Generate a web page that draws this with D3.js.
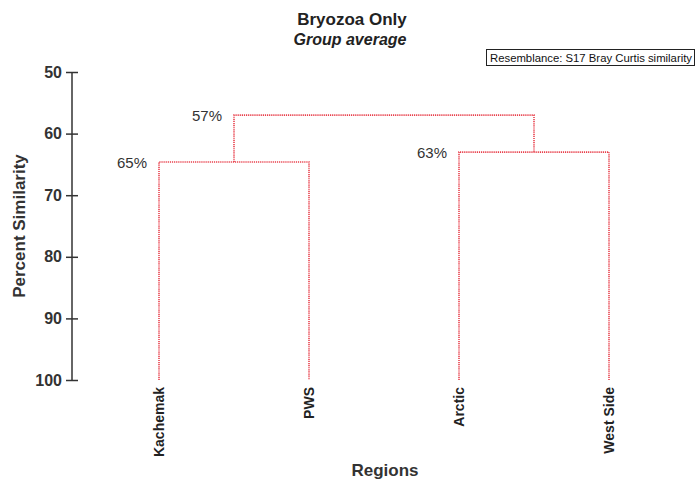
<!DOCTYPE html>
<html>
<head>
<meta charset="utf-8">
<title>Bryozoa Only</title>
<style>
  body { margin: 0; background: #fff; }
  svg { display: block; font-family: "Liberation Sans", Arial, sans-serif; }
  .link { fill: none; stroke: #e8404c; stroke-width: 1.6px; stroke-dasharray: 1.2,0.9; }
  .axis path, .axis line { stroke: #333; stroke-width: 1.5px; }
  .axis text { font-size: 16px; font-weight: bold; fill: #333; }
</style>
<script src="https://d3js.org/d3.v7.min.js"></script>
</head>
<body>
<script>
// leaves, left to right
var regions = ["Kachemak", "PWS", "Arctic", "West Side"];
// merges: [left member, right member, similarity %]
var merges = [
  ["Kachemak", "PWS", 64.6],
  ["Arctic", "West Side", 63],
  ["Kachemak|PWS", "Arctic|West Side", 57]
];
var mergeLabels = ["65%", "63%", "57%"];
var yTicks = [50, 60, 70, 80, 90, 100];

var w = 697, h = 482;
var svg = d3.select("body").append("svg").attr("width", w).attr("height", h);

var x = d3.scalePoint().domain(regions).range([159, 609]);
var y = d3.scaleLinear().domain([50, 100]).range([72, 380]);

// axis
svg.append("g")
  .attr("class", "axis")
  .attr("transform", "translate(72,0)")
  .call(d3.axisLeft(y).tickValues(yTicks).tickSize(6).tickPadding(4))
  .call(function (g) { g.select(".domain").attr("d", "M0,72V380"); })
  .call(function (g) { g.selectAll(".tick line").attr("x1", -6).attr("x2", 6); });

// node positions
var nodes = {};
regions.forEach(function (r) { nodes[r] = { x: x(r), sim: 100 }; });
merges.forEach(function (m, i) {
  var a = nodes[m[0]], b = nodes[m[1]];
  var key = m[0] + "|" + m[1];
  nodes[key] = { x: (a.x + b.x) / 2, sim: m[2] };
  svg.append("path")
    .attr("class", "link")
    .attr("d", "M" + a.x + "," + y(a.sim) + "V" + y(m[2]) + "H" + b.x + "V" + y(b.sim));
  svg.append("text")
    .attr("x", a.x - 12)
    .attr("y", y(m[2]) + 6)
    .attr("text-anchor", "end")
    .style("font-size", "15px")
    .style("fill", "#333")
    .text(mergeLabels[i]);
});

// leaf labels
regions.forEach(function (r) {
  svg.append("text")
    .attr("transform", "translate(" + (x(r) + 5) + ",387) rotate(-90)")
    .attr("text-anchor", "end")
    .style("font-size", "14px")
    .style("font-weight", "bold")
    .style("fill", "#222")
    .text(r);
});

// titles
svg.append("text").attr("x", 352).attr("y", 25).attr("text-anchor", "middle")
  .style("font-size", "17px").style("font-weight", "bold").style("fill", "#222")
  .text("Bryozoa Only");
svg.append("text").attr("x", 350).attr("y", 45).attr("text-anchor", "middle")
  .style("font-size", "16px").style("font-weight", "bold").style("font-style", "italic").style("fill", "#222")
  .text("Group average");
svg.append("text").attr("x", 385).attr("y", 476).attr("text-anchor", "middle")
  .style("font-size", "17px").style("font-weight", "bold").style("fill", "#333")
  .text("Regions");
svg.append("text").attr("transform", "translate(25,226) rotate(-90)").attr("text-anchor", "middle")
  .style("font-size", "17px").style("font-weight", "bold").style("fill", "#333")
  .text("Percent Similarity");

// resemblance box
svg.append("rect").attr("x", 486.5).attr("y", 49.5).attr("width", 208).attr("height", 16)
  .attr("fill", "#fff").attr("stroke", "#222");
svg.append("text").attr("x", 490).attr("y", 62)
  .style("font-size", "11px").style("fill", "#111")
  .attr("textLength", 202).attr("lengthAdjust", "spacingAndGlyphs")
  .text("Resemblance: S17 Bray Curtis similarity");
</script>
</body>
</html>
